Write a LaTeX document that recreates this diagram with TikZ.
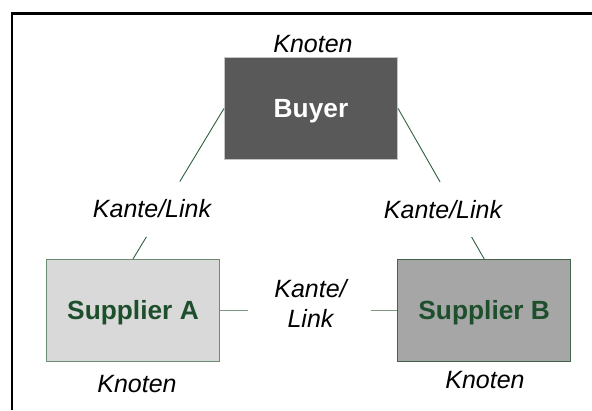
\documentclass[tikz,border=0pt]{standalone}
\usepackage{fontspec}
\setmainfont{Liberation Sans}
\usetikzlibrary{calc}
\definecolor{buyerfill}{HTML}{595959}
\definecolor{buyerline}{HTML}{C4C4C4}
\definecolor{afill}{HTML}{D9D9D9}
\definecolor{aline}{HTML}{6B8B72}
\definecolor{bfill}{HTML}{A6A6A6}
\definecolor{bline}{HTML}{42624A}
\definecolor{supgreen}{HTML}{1E4F2C}
\definecolor{edgegreen}{HTML}{2F5F3F}
\definecolor{edgegray}{HTML}{7B977F}
\begin{document}
\begin{tikzpicture}[x=1pt,y=-1pt,
  actor/.style={draw, line width=1pt, minimum width=173pt, minimum height=102pt,
    inner sep=0pt, text height=18.6pt, text depth=0pt,
    font=\fontsize{26.3}{30}\selectfont\bfseries},
  lbl/.style={font=\fontsize{25}{30}\selectfont\itshape, inner sep=0pt},
  diag/.style={draw=edgegreen, line width=0.9pt},
  flat/.style={draw=edgegray, line width=1.3pt}]
\useasboundingbox (0,0) rectangle (592,410);
% frame: only the top and left edges fall inside the page
\draw[line width=2.2pt] (11.7,410) -- (11.7,13.5) -- (592,13.5);

% the three actors
\node[actor, fill=buyerfill, draw=buyerline, text=white] (buyer) at (311,108.4) {Buyer};
\node[actor, fill=afill, draw=aline, text=supgreen] (supA) at (133,310.5) {Supplier A};
\node[actor, fill=bfill, draw=bline, text=supgreen] (supB) at (484.2,310.5) {Supplier B};

% node captions
\node[lbl, anchor=base] (capBuyer) at (313,52.3) {Knoten};
\node[lbl, anchor=base] (capA) at (137,392.5) {Knoten};
\node[lbl, anchor=base] (capB) at (485,388.5) {Knoten};

% edge captions
\node[lbl, anchor=base] (linkLeft) at (152,217) {Kante/Link};
\node[lbl, anchor=base] (linkRight) at (443,218.3) {Kante/Link};
\node[lbl, anchor=center, align=center] (linkMid) at (310.5,303) {Kante/\\Link};

% edges, interrupted around their captions
\coordinate (l1) at ($(buyer.west)!0.486!(supA.north)$);
\coordinate (l2) at ($(buyer.west)!0.853!(supA.north)$);
\coordinate (r1) at ($(buyer.east)!0.488!(supB.north)$);
\coordinate (r2) at ($(buyer.east)!0.854!(supB.north)$);
\coordinate (m1) at (248.3,310.5);
\coordinate (m2) at (371,310.5);
\draw[diag] (buyer.west) -- (l1);
\draw[diag] (l2) -- (supA.north);
\draw[diag] (buyer.east) -- (r1);
\draw[diag] (r2) -- (supB.north);
\draw[flat] (supA.east) -- (m1);
\draw[flat] (m2) -- (supB.west);
\end{tikzpicture}
\end{document}
